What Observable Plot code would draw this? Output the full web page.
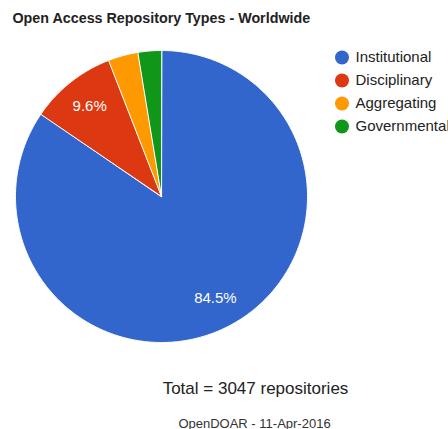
<!DOCTYPE html>
<html><head><meta charset="utf-8">
<script src="https://cdn.jsdelivr.net/npm/d3@7"></script>
<script src="https://cdn.jsdelivr.net/npm/@observablehq/plot@0.6"></script>
<style>body{margin:0;background:#fff;overflow:hidden} svg{display:block}</style>
</head><body><div id="chart"></div>
<script>
const categories = ["Institutional", "Disciplinary", "Aggregating", "Governmental"];
const counts = [2575, 292, 101, 79];
const colors = ["#3366cc", "#dc3912", "#ff9900", "#109618"];
const titleText = "Open Access Repository Types - Worldwide";
const totalText = "Total = 3047 repositories";
const sourceText = "OpenDOAR - 11-Apr-2016";

const FONT = "'Liberation Sans', Arial, sans-serif";
const total = d3.sum(counts);
const arcs = d3.pie().sort(null).value(d => d)(counts);

// slice polygons in unit-circle space (0 rad = 12 o'clock, clockwise)
const pts = [];
arcs.forEach((a, i) => {
  const cat = categories[i];
  pts.push({cat, x: 0, y: 0});
  const n = Math.max(2, Math.ceil((a.endAngle - a.startAngle) / 0.01));
  for (let k = 0; k <= n; k++) {
    const t = a.startAngle + (a.endAngle - a.startAngle) * k / n;
    pts.push({cat, x: Math.sin(t), y: Math.cos(t)});
  }
});
const labels = arcs.map((a, i) => {
  const m = (a.startAngle + a.endAngle) / 2;
  return {cat: categories[i], pct: counts[i] / total, x: 0.79 * Math.sin(m), y: 0.79 * Math.cos(m)};
}).filter(d => d.pct > 0.05);

const legendMarks = categories.flatMap((c, i) => [
  Plot.dot([c], {frameAnchor: "top-left", dx: 341.5, dy: 57 + i * 23, r: 7, fill: d => d}),
  Plot.text([c], {frameAnchor: "top-left", dx: 355, dy: 57 + i * 23, text: d => d, textAnchor: "start",
    lineAnchor: "middle", fontSize: 15, fill: "#222"})
]);

const chart = Plot.plot({
  width: 448, height: 429, margin: 0,
  style: {fontFamily: FONT, background: "#fff", overflow: "hidden"},
  x: {domain: [-1, 1], range: [15, 307], axis: null},
  y: {domain: [-1, 1], range: [342, 50], axis: null},
  color: {domain: categories, range: colors},
  marks: [
    Plot.line(pts, {x: "x", y: "y", z: "cat", fill: "cat", stroke: "white", strokeWidth: 1, curve: "linear-closed"}),
    Plot.text(labels, {x: "x", y: "y", text: d => d3.format(".1%")(d.pct), fill: "white", fontSize: 15}),
    Plot.text([titleText], {frameAnchor: "top-left", dx: 12, dy: 22, text: d => d, textAnchor: "start",
      lineAnchor: "bottom", fontSize: 14.3, fontWeight: "bold", fill: "#222"}),
    ...legendMarks,
    Plot.text([totalText], {frameAnchor: "top-left", dx: 255, dy: 393, text: d => d, textAnchor: "middle",
      lineAnchor: "bottom", fontSize: 17, fill: "#222"}),
    Plot.text([sourceText], {frameAnchor: "top-left", dx: 254, dy: 427.5, text: d => d, textAnchor: "middle",
      lineAnchor: "bottom", fontSize: 13, fill: "#333"})
  ]
});
document.getElementById("chart").appendChild(chart);
</script></body></html>
